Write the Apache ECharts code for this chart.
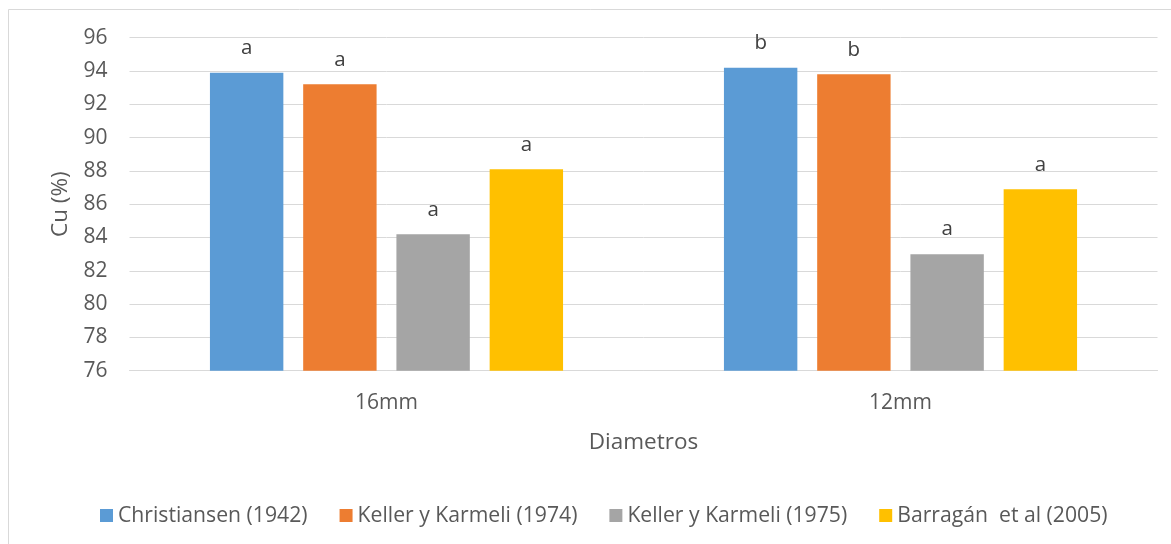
<!DOCTYPE html>
<html>
<head>
<meta charset="utf-8">
<script src="https://cdn.jsdelivr.net/npm/echarts@6/dist/echarts.min.js"></script>
<style>
  html, body { margin: 0; padding: 0; background: #ffffff; }
  #chart { width: 1171px; height: 544px; }
</style>
</head>
<body>
<div id="chart"></div>
<script>
// Diameter groups on the category axis
const categories = ['16mm', '12mm'];

// Uniformity coefficient Cu (%) by method
const christiansen1942 = [93.9, 94.2];
const keller1974 = [93.2, 93.8];
const keller1975 = [84.2, 83.0];
const barragan2005 = [88.1, 86.9];

// Significance letters shown above each bar
const lettersChristiansen = ['a', 'b'];
const lettersKeller1974 = ['a', 'b'];
const lettersKeller1975 = ['a', 'a'];
const lettersBarragan = ['a', 'a'];

// Value axis range
const yMin = 76;
const yMax = 96;
const yStep = 2;

const FONT = '"Open Sans", "Noto Sans", sans-serif';
const TEXT = '#595959';

function makeSeries(name, values, letters, color) {
  return {
    name: name,
    type: 'bar',
    data: values,
    itemStyle: { color: color },
    barGap: '27%',
    barCategoryGap: '31.3%',
    label: {
      show: true,
      position: 'top',
      distance: 14,
      fontFamily: FONT,
      fontSize: 20.5,
      color: '#404040',
      formatter: function (p) { return letters[p.dataIndex]; }
    }
  };
}

const chart = echarts.init(document.getElementById('chart'), null, { renderer: 'canvas' });

chart.setOption({
  backgroundColor: '#ffffff',
  animation: false,
  textStyle: { fontFamily: FONT },
  graphic: [{
    type: 'rect',
    shape: { x: 8.5, y: 9.5, width: 1200, height: 600 },
    style: { fill: 'none', stroke: '#D9D9D9', lineWidth: 1 },
    silent: true,
    z: -10
  }],
  grid: { left: 129.5, right: 13.5, top: 37.7, bottom: 173.3, containLabel: false },
  legend: {
    left: 100,
    top: 505,
    padding: 0,
    itemWidth: 13,
    itemHeight: 13,
    itemGap: 32,
    icon: 'rect',
    textStyle: { fontFamily: FONT, fontSize: 21.2, color: TEXT }
  },
  xAxis: {
    type: 'category',
    data: categories,
    name: 'Diametros',
    nameLocation: 'middle',
    nameGap: 60,
    nameTextStyle: { fontFamily: FONT, fontSize: 22.5, color: TEXT },
    axisLine: { show: true, lineStyle: { color: '#D9D9D9', width: 1 } },
    axisTick: { show: false },
    axisLabel: { fontFamily: FONT, fontSize: 21, color: TEXT, margin: 22 }
  },
  yAxis: {
    type: 'value',
    min: yMin,
    max: yMax,
    interval: yStep,
    name: 'Cu (%)',
    nameLocation: 'middle',
    nameGap: 56,
    nameTextStyle: { fontFamily: FONT, fontSize: 22.5, color: TEXT },
    axisLine: { show: false },
    axisTick: { show: false },
    splitLine: { lineStyle: { color: '#D9D9D9', width: 1 } },
    axisLabel: { fontFamily: FONT, fontSize: 21, color: TEXT, margin: 22 }
  },
  series: [
    makeSeries('Christiansen (1942)', christiansen1942, lettersChristiansen, '#5B9BD5'),
    makeSeries('Keller y Karmeli (1974)', keller1974, lettersKeller1974, '#ED7D31'),
    makeSeries('Keller y Karmeli (1975)', keller1975, lettersKeller1975, '#A5A5A5'),
    makeSeries('Barragán  et al (2005)', barragan2005, lettersBarragan, '#FFC000')
  ]
});
</script>
</body>
</html>
